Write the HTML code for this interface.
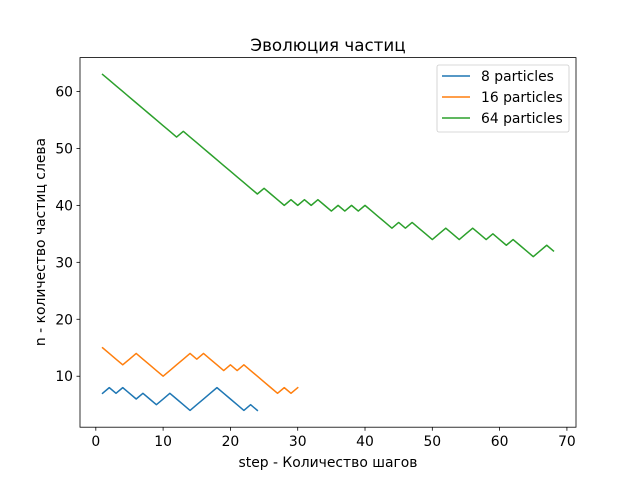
<!DOCTYPE html>
<html><head><meta charset="utf-8"><style>
body{margin:0;background:#fff;}
svg{display:block;font-family:"DejaVu Sans","Liberation Sans",sans-serif;}
</style></head><body>
<svg id="chart" width="640" height="480" viewBox="0 0 640 480">
<rect width="640" height="480" fill="#fff"/>
<text x="328" y="51" text-anchor="middle" font-size="16.7">Эволюция частиц</text>
<g id="plot"></g>
<rect x="80" y="57.6" width="496" height="369.6" fill="none" stroke="#000" stroke-width="0.8"/>
<text x="328" y="467" text-anchor="middle" font-size="13.9">step - Количество шагов</text>
<text transform="translate(45,242) rotate(-90)" text-anchor="middle" font-size="13.9">n - количество частиц слева</text>
<g>
<rect x="437" y="65" width="132" height="67" rx="2" fill="#fff" fill-opacity="0.8" stroke="#ccc" stroke-width="0.8"/>
<line x1="442" y1="76" x2="470" y2="76" stroke="#1f77b4" stroke-width="1.5"/>
<text x="481" y="81" font-size="13.9">8 particles</text>
<line x1="442" y1="97" x2="470" y2="97" stroke="#ff7f0e" stroke-width="1.5"/>
<text x="481" y="102" font-size="13.9">16 particles</text>
<line x1="442" y1="118" x2="470" y2="118" stroke="#2ca02c" stroke-width="1.5"/>
<text x="481" y="123" font-size="13.9">64 particles</text>
</g>
</svg>
<script>
const series8 = [7,8,7,8,7,6,7,6,5,6,7,6,5,4,5,6,7,8,7,6,5,4,5,4];
const series16 = [15,14,13,12,13,14,13,12,11,10,11,12,13,14,13,14,13,12,11,12,11,12,11,10,9,8,7,8,7,8];
const series64 = [63,62,61,60,59,58,57,56,55,54,53,52,53,52,51,50,49,48,47,46,45,44,43,42,43,42,41,40,41,40,41,40,41,40,39,40,39,40,39,40,39,38,37,36,37,36,37,36,35,34,35,36,35,34,35,36,35,34,35,34,33,34,33,32,31,32,33,32];
const xTicks = [0,10,20,30,40,50,60,70];
const yTicks = [10,20,30,40,50,60];
const seriesColors = ['#1f77b4','#ff7f0e','#2ca02c'];
const seriesNames = ['series-8-particles','series-16-particles','series-64-particles'];

const L=80,R=576,T=57.6,B=427.2;
const xMin=-2.35,xMax=71.35,yMin=1.05,yMax=65.95;
function xs(v){return L+(v-xMin)/(xMax-xMin)*(R-L);}
function ys(v){return B-(v-yMin)/(yMax-yMin)*(B-T);}
const NS='http://www.w3.org/2000/svg';
const g=document.getElementById('plot');
function mk(t,a){const e=document.createElementNS(NS,t);for(const k in a)e.setAttribute(k,a[k]);g.appendChild(e);return e;}
xTicks.forEach(v=>{
  const x=xs(v);
  const tk=mk('line',{x1:x,y1:B,x2:x,y2:B+3.5,stroke:'#000','stroke-width':0.8});
  
  
  const t=mk('text',{x:x,y:B+19,'text-anchor':'middle','font-size':13.9});
  
  
  t.textContent=v;
});
yTicks.forEach(v=>{
  const y=ys(v);
  const tk=mk('line',{x1:L-3.5,y1:y,x2:L,y2:y,stroke:'#000','stroke-width':0.8});
  
  
  const t=mk('text',{x:L-7,y:y+5,'text-anchor':'end','font-size':13.9});
  
  
  t.textContent=v;
});
[series8,series16,series64].forEach((s,i)=>{
  const pts=s.map((v,j)=>xs(j+1).toFixed(2)+','+ys(v).toFixed(2)).join(' ');
  const p=mk('polyline',{points:pts,fill:'none',stroke:seriesColors[i],'stroke-width':1.5,'stroke-linejoin':'round','stroke-linecap':'square'});
  
  
});
</script>
</body></html>
